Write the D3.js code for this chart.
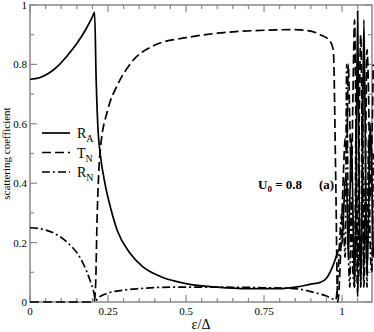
<!DOCTYPE html>
<html>
<head>
<meta charset="utf-8">
<script src="https://cdn.jsdelivr.net/npm/d3@7"></script>
<style>
  body { margin: 0; background: #fff; }
  text { font-family: "Liberation Serif", "DejaVu Serif", serif; }
</style>
</head>
<body>
<svg id="chart" width="374" height="332"></svg>
<script>
// energy grid (eps / Delta) and scattering coefficients
const epsA = [0, 0.03, 0.06, 0.09, 0.12, 0.15, 0.18, 0.2, 0.207, 0.212, 0.218, 0.225, 0.24, 0.26, 0.28, 0.32, 0.36, 0.42, 0.5, 0.6, 0.7, 0.8, 0.85, 0.9, 0.93, 0.95, 0.97, 0.987,
  1.0, 1.005, 1.01, 1.015, 1.02, 1.025, 1.03, 1.035, 1.04, 1.045, 1.05, 1.055, 1.06, 1.065, 1.07, 1.075, 1.08, 1.085, 1.09, 1.095, 1.1];
const rA = [0.75, 0.755, 0.77, 0.795, 0.83, 0.87, 0.92, 0.96, 0.975, 0.75, 0.58, 0.5, 0.4, 0.31, 0.24, 0.165, 0.12, 0.085, 0.062, 0.05, 0.045, 0.045, 0.05, 0.06, 0.066, 0.08, 0.12, 0.17,
  0.2, 0.3, 0.42, 0.4, 0.15, 0.35, 0.55, 0.3, 0.05, 0.4, 0.98, 0.35, 0.05, 0.45, 0.95, 0.5, 0.1, 0.3, 0.6, 0.45, 0.15];

const epsT = [0, 0.1, 0.2, 0.205, 0.21, 0.215, 0.225, 0.25, 0.28, 0.32, 0.4, 0.5, 0.6, 0.75, 0.85, 0.9, 0.93, 0.96, 0.972, 0.98, 0.986,
  1.0, 1.005, 1.01, 1.015, 1.02, 1.025, 1.03, 1.035, 1.04, 1.045, 1.05, 1.055, 1.06, 1.065, 1.07, 1.075, 1.08, 1.085, 1.09, 1.095, 1.1];
const tN = [0, 0, 0, 0, 0.05, 0.28, 0.51, 0.65, 0.73, 0.8, 0.865, 0.89, 0.905, 0.915, 0.917, 0.912, 0.9, 0.88, 0.85, 0.4, 0.0,
  0.3, 0.45, 0.55, 0.5, 0.8, 0.6, 0.4, 0.7, 0.95, 0.55, 0.02, 0.6, 0.9, 0.5, 0.05, 0.45, 0.85, 0.7, 0.35, 0.5, 0.8];

const epsR = [0, 0.04, 0.08, 0.12, 0.16, 0.19, 0.205, 0.21, 0.22, 0.25, 0.3, 0.35, 0.45, 0.6, 0.75, 0.85, 0.9, 0.95, 0.98,
  1.0, 1.005, 1.01, 1.015, 1.02, 1.025, 1.03, 1.035, 1.04, 1.045, 1.05, 1.055, 1.06, 1.065, 1.07, 1.075, 1.08, 1.085, 1.09, 1.095, 1.1];
const rN = [0.25, 0.245, 0.23, 0.2, 0.15, 0.08, 0.03, 0.005, 0.015, 0.03, 0.04, 0.045, 0.05, 0.05, 0.048, 0.045, 0.035, 0.02, 0.008,
  0.3, 0.25, 0.15, 0.8, 0.2, 0.05, 0.35, 0.1, 0.05, 0.6, 0.05, 0.25, 0.05, 0.75, 0.1, 0.4, 0.05, 0.55, 0.2, 0.1, 0.5];

const xMajor = [0, 0.25, 0.5, 0.75, 1];
const xMajorLabels = ["0", "0.25", "0.5", "0.75", "1"];
const yMajor = [0, 0.2, 0.4, 0.6, 0.8, 1];
const yMajorLabels = ["0", "0.2", "0.4", "0.6", "0.8", "1"];

const svg = d3.select("#chart");
const mLeft = 30, mRight = 372, mTop = 5, mBottom = 302;

const x = d3.scaleLinear().domain([0, 1.096]).range([mLeft, mRight]);
const y = d3.scaleLinear().domain([0, 1]).range([mBottom, mTop]);

const axisColor = "#888";

// frame
svg.append("rect")
  .attr("x", mLeft).attr("y", mTop)
  .attr("width", mRight - mLeft).attr("height", mBottom - mTop)
  .attr("fill", "none").attr("stroke", axisColor).attr("stroke-width", 1.5);

// ticks (pointing inward)
const xMinor = d3.range(0, 1.1, 0.05).filter(v => xMajor.every(m => Math.abs(m - v) > 1e-6));
const yMinor = [0.1, 0.3, 0.5, 0.7, 0.9];

const ticks = svg.append("g").attr("stroke", axisColor).attr("stroke-width", 1.2);
xMajor.forEach(v => {
  ticks.append("line").attr("x1", x(v)).attr("x2", x(v)).attr("y1", mBottom).attr("y2", mBottom - 7);
  ticks.append("line").attr("x1", x(v)).attr("x2", x(v)).attr("y1", mTop).attr("y2", mTop + 7);
});
xMinor.forEach(v => {
  ticks.append("line").attr("x1", x(v)).attr("x2", x(v)).attr("y1", mBottom).attr("y2", mBottom - 4);
  ticks.append("line").attr("x1", x(v)).attr("x2", x(v)).attr("y1", mTop).attr("y2", mTop + 4);
});
yMajor.forEach(v => {
  ticks.append("line").attr("x1", mLeft).attr("x2", mLeft + 7).attr("y1", y(v)).attr("y2", y(v));
  ticks.append("line").attr("x1", mRight).attr("x2", mRight - 7).attr("y1", y(v)).attr("y2", y(v));
});
yMinor.forEach(v => {
  ticks.append("line").attr("x1", mLeft).attr("x2", mLeft + 4).attr("y1", y(v)).attr("y2", y(v));
  ticks.append("line").attr("x1", mRight).attr("x2", mRight - 4).attr("y1", y(v)).attr("y2", y(v));
});

// tick labels
svg.append("g").selectAll("text").data(xMajor).join("text")
  .attr("x", d => x(d)).attr("y", mBottom + 13)
  .attr("text-anchor", "middle").attr("font-size", 11)
  .text((d, i) => xMajorLabels[i]);
svg.append("g").selectAll("text").data(yMajor).join("text")
  .attr("x", mLeft - 3).attr("y", d => y(d) + 4)
  .attr("text-anchor", "end").attr("font-size", 11)
  .text((d, i) => yMajorLabels[i]);

// axis titles
svg.append("text")
  .attr("transform", `translate(10,${(mTop + mBottom) / 2}) rotate(-90)`)
  .attr("text-anchor", "middle").attr("font-size", 11)
  .text("scattering coefficient");
svg.append("text")
  .attr("x", 201).attr("y", 329)
  .attr("text-anchor", "middle").attr("font-size", 14)
  .text("ε/Δ");

// curves
const plot = svg.append("g");
const line = d3.line().x(d => x(d[0])).y(d => y(d[1])).curve(d3.curveMonotoneX);
const series = [
  { eps: epsA, val: rA, dash: null },
  { eps: epsT, val: tN, dash: "9,4" },
  { eps: epsR, val: rN, dash: "8,3,2,3" },
];
series.forEach(s => {
  plot.append("path")
    .datum(s.eps.map((e, i) => [e, s.val[i]]))
    .attr("d", line)
    .attr("fill", "none")
    .attr("stroke", "#000")
    .attr("stroke-width", 1.7)
    .attr("stroke-dasharray", s.dash);
});

// legend
const legendNames = [["R", "A"], ["T", "N"], ["R", "N"]];
const legend = svg.append("g");
legendNames.forEach((n, i) => {
  const ly = 133 + i * 19.5;
  legend.append("line")
    .attr("x1", 42).attr("x2", 70).attr("y1", ly).attr("y2", ly)
    .attr("stroke", "#000").attr("stroke-width", 1.7)
    .attr("stroke-dasharray", series[i].dash);
  const t = legend.append("text").attr("x", 77).attr("y", ly + 5).attr("font-size", 14);
  t.append("tspan").text(n[0]);
  t.append("tspan").attr("dy", 4).attr("font-size", 10).text(n[1]);
});

// annotation
const ann = svg.append("text").attr("x", 258).attr("y", 189)
  .attr("font-size", 13).attr("font-weight", "bold");
ann.append("tspan").text("U");
ann.append("tspan").attr("dy", 3).attr("font-size", 9).text("0");
ann.append("tspan").attr("dy", -3).text(" = 0.8");
ann.append("tspan").attr("x", 319).text("(a)");
</script>
</body>
</html>
